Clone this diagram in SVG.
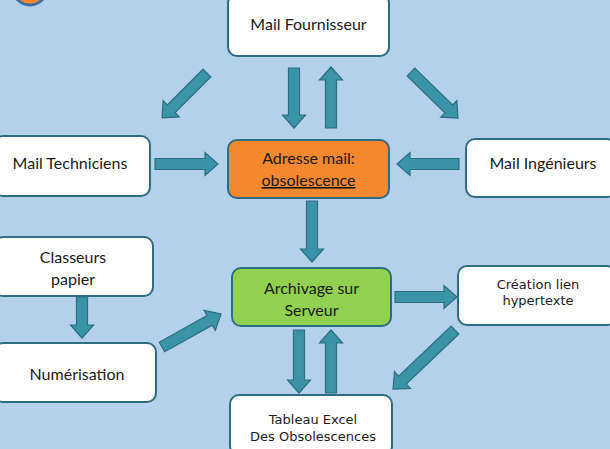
<svg xmlns="http://www.w3.org/2000/svg" width="610" height="449" viewBox="0 0 610 449">
<style>
.box{fill:#ffffff;stroke:#2C6E80;stroke-width:2}
.t{font-family:Lato,"Open Sans","Liberation Sans",sans-serif;font-size:16px;fill:#1a1a1a;text-anchor:middle}
.v{font-family:"DejaVu Sans",Verdana,sans-serif;font-size:13px;fill:#1a1a1a;text-anchor:middle}
.ar{fill:#3A93A6;stroke:#2A6E80;stroke-width:1.2;stroke-linejoin:miter}
</style>
<rect width="610" height="449" fill="#B4D1EB"/>
<circle cx="30" cy="-12" r="17" fill="#F5872F" stroke="#3F6FA0" stroke-width="3"/>
<g id="connectors">
<path class="ar" d="M0,-5.5 H47 V-11.5 L60,0 L47,11.5 V5.5 H0 Z" transform="translate(294,68) rotate(90)"/>
<path class="ar" d="M0,-5.5 H48 V-11.5 L61,0 L48,11.5 V5.5 H0 Z" transform="translate(331,128) rotate(-90)"/>
<path class="ar" d="M0,-5.5 H50.6 V-11.5 L63.6,0 L50.6,11.5 V5.5 H0 Z" transform="translate(207,73) rotate(135)"/>
<path class="ar" d="M0,-5.5 H52.8 V-11.5 L65.8,0 L52.8,11.5 V5.5 H0 Z" transform="translate(411,72) rotate(44.4)"/>
<path class="ar" d="M0,-5.5 H50 V-11.5 L63,0 L50,11.5 V5.5 H0 Z" transform="translate(155,164)"/>
<path class="ar" d="M0,-5.5 H49 V-11.5 L62,0 L49,11.5 V5.5 H0 Z" transform="translate(459,164) rotate(180)"/>
<path class="ar" d="M0,-5.5 H48 V-11.5 L61,0 L48,11.5 V5.5 H0 Z" transform="translate(312,201) rotate(90)"/>
<path class="ar" d="M0,-5.5 H28 V-11.5 L41,0 L28,11.5 V5.5 H0 Z" transform="translate(82,297) rotate(90)"/>
<path class="ar" d="M0,-5.5 H54.6 V-11.5 L67.6,0 L54.6,11.5 V5.5 H0 Z" transform="translate(162,347) rotate(-29.2)"/>
<path class="ar" d="M0,-5.5 H49 V-11.5 L62,0 L49,11.5 V5.5 H0 Z" transform="translate(395,297)"/>
<path class="ar" d="M0,-5.5 H72.6 V-11.5 L85.6,0 L72.6,11.5 V5.5 H0 Z" transform="translate(455,330) rotate(136.4)"/>
<path class="ar" d="M0,-5.5 H50 V-11.5 L63,0 L50,11.5 V5.5 H0 Z" transform="translate(299,330) rotate(90)"/>
<path class="ar" d="M0,-5.5 H50 V-11.5 L63,0 L50,11.5 V5.5 H0 Z" transform="translate(331,393) rotate(-90)"/>
</g>
<g id="fournisseur"><rect class="box" x="228" y="-6" width="161" height="62" rx="9"/><text class="t" x="308.5" y="30">Mail Fournisseur</text></g>
<g id="adresse"><rect class="box" x="228" y="140" width="161" height="58" rx="9" style="fill:#F5872F"/><text class="t" x="308.5" y="164">Adresse mail:</text><text class="t" x="308.5" y="186" text-decoration="underline">obsolescence</text></g>
<g id="techniciens"><rect class="box" x="-6" y="136" width="156" height="60" rx="9"/><text class="t" x="70" y="169">Mail Techniciens</text></g>
<g id="ingenieurs"><rect class="box" x="466" y="139" width="150" height="58" rx="9"/><text class="t" x="543" y="169">Mail Ingénieurs</text></g>
<g id="classeurs"><rect class="box" x="-6" y="237" width="159" height="59" rx="9"/><text class="t" x="73" y="263">Classeurs</text><text class="t" x="73" y="285">papier</text></g>
<g id="numerisation"><rect class="box" x="-6" y="343" width="162" height="59" rx="9"/><text class="t" x="77" y="380">Numérisation</text></g>
<g id="archivage"><rect class="box" x="232" y="268" width="159" height="58" rx="9" style="fill:#92D050"/><text class="t" x="311.5" y="294">Archivage sur</text><text class="t" x="311.5" y="316">Serveur</text></g>
<g id="creation"><rect class="box" x="458" y="266" width="158" height="59" rx="9"/><text class="v" x="538" y="289">Création lien</text><text class="v" x="538" y="305">hypertexte</text></g>
<g id="tableau"><rect class="box" x="230" y="395" width="162" height="60" rx="9"/><text class="v" x="313" y="424">Tableau Excel</text><text class="v" x="313" y="441">Des Obsolescences</text></g>
</svg>
